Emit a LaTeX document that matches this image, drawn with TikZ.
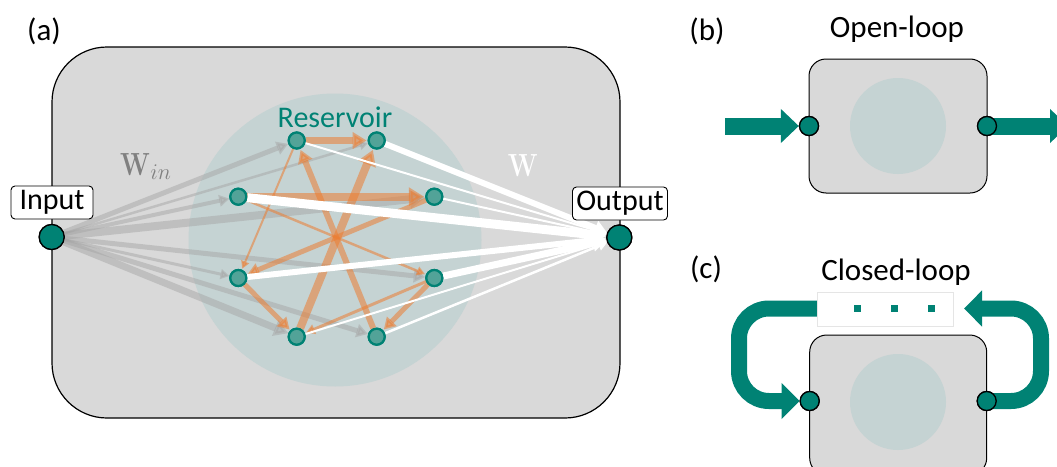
\RequirePackage{fix-cm}
\documentclass[tikz,border=0pt]{standalone}
\usepackage[no-math]{fontspec}
\usepackage{graphicx}
\setmainfont{Carlito}
\usetikzlibrary{arrows.meta}
\definecolor{bgbox}{RGB}{217,217,217}
\definecolor{resv}{RGB}{197,211,211}
\definecolor{teal1}{RGB}{0,130,116}
\definecolor{tealfill}{RGB}{82,163,152}
\definecolor{org}{RGB}{237,125,49}
\definecolor{wgray}{RGB}{128,128,128}
\begin{document}
\begin{tikzpicture}[x=1pt,y=-1pt,
  rnode/.style={circle, fill=tealfill, draw=teal1, line width=2.2pt, minimum size=16pt, inner sep=0pt},
  ionode/.style={circle, fill=teal1, draw=black, line width=1.3pt, minimum size=25pt, inner sep=0pt},
  smnode/.style={circle, fill=teal1, draw=black, line width=1.3pt, minimum size=19pt, inner sep=0pt},
  lbl/.style={draw=black, fill=white, rounded corners=4pt, line width=0.9pt, inner sep=0pt, minimum height=33pt, font=\fontsize{30}{30}\selectfont},
  ttl/.style={font=\fontsize{31}{31}\selectfont, anchor=base, inner sep=0pt},
  garr/.style={draw=black!35, opacity=0.5, -{Triangle[length=5pt 1.3, width=5pt 1.6]}},
  oarr/.style={draw=org, opacity=0.55, -{Triangle[length=5pt 1.3, width=5pt 1.6]}, shorten >=1pt},
  warr/.style={draw=white, -{Triangle[length=6pt 1.1, width=6pt 1.4]}},
  bigarr/.style={draw=teal1, line width=17pt, -{Triangle[length=18pt, width=33pt]}},
  looparr/.style={draw=teal1, line width=16pt, rounded corners=30pt, -{Triangle[length=18pt, width=35pt]}},
  panelbox/.style={draw=black, fill=bgbox, line width=1pt, rounded corners=17pt}
]
\useasboundingbox (0,0) rectangle (1057,466);
\begin{scope}
\clip (0,0) rectangle (1057,466);

% ---------- panel (a)
\node[ttl] (la) at (44,40) {(a)};
\draw[draw=black, fill=bgbox, line width=1.2pt, rounded corners=55pt] (52,47) rectangle (620,418);
\fill[resv] (335,240) circle (146.5);

\node[rnode] (n1) at (296.7,140.5) {};
\node[rnode] (n2) at (376.7,140.5) {};
\node[rnode] (n3) at (238.3,196.7) {};
\node[rnode] (n4) at (434.3,196.7) {};
\node[rnode] (n5) at (238.3,278) {};
\node[rnode] (n6) at (434.3,278) {};
\node[rnode] (n7) at (296.7,336.7) {};
\node[rnode] (n8) at (376.7,336.7) {};
\node[ionode] (in) at (51.7,237) {};
\node[ionode] (out) at (619.3,237.5) {};

% input weights
\draw[garr, line width=5pt] (in) -- (n1);
\draw[garr, line width=2.5pt] (in) -- (n2);
\draw[garr, line width=4pt] (in) -- (n3);
\draw[garr, line width=8pt] (in) -- (n4);
\draw[garr, line width=3pt] (in) -- (n5);
\draw[garr, line width=5pt] (in) -- (n6);
\draw[garr, line width=7pt] (in) -- (n7);
\draw[garr, line width=5pt] (in) -- (n8);

% reservoir connections
\draw[oarr, line width=7pt] (n1) -- (n2);
\draw[oarr, line width=8pt] (n3) -- (n4);
\draw[oarr, line width=2.5pt] (n3) -- (n6);
\draw[oarr, line width=5pt] (n4) -- (n5);
\draw[oarr, line width=2pt] (n1) -- (n5);
\draw[oarr, line width=5pt] (n5) -- (n7);
\draw[oarr, line width=8pt] (n7) -- (n2);
\draw[oarr, line width=6pt] (n8) -- (n1);
\draw[oarr, line width=3pt] (n6) -- (n7);
\draw[oarr, line width=5pt] (n6) -- (n8);

% output weights
\draw[warr, line width=2pt] (n1) -- (out);
\draw[warr, line width=6pt] (n2) -- (out);
\draw[warr, line width=9pt] (n3) -- (out);
\draw[warr, line width=2pt] (n4) -- (out);
\draw[warr, line width=6pt] (n5) -- (out);
\draw[warr, line width=7pt] (n6) -- (out);
\draw[warr, line width=2pt] (n7) -- (out);
\draw[warr, line width=2.5pt] (n8) -- (out);

% redraw nodes on top
\foreach \p/\q in {296.7/140.5, 376.7/140.5, 238.3/196.7, 434.3/196.7, 238.3/278, 434.3/278, 296.7/336.7, 376.7/336.7}
  \node[rnode] at (\p,\q) {};
\node[ionode] at (51.7,237) {};
\node[ionode] at (619.3,237.5) {};

\node[lbl, minimum width=82pt] (inlbl) at (52,202.5) {Input};
\node[lbl, minimum width=95pt] (outlbl) at (620,203.5) {Output};
\node[font=\fontsize{30}{30}\selectfont, text=teal1, anchor=base, inner sep=0pt] (reslbl) at (335,127) {Reservoir};
\node[text=wgray, anchor=base west, inner sep=0pt, font=\fontsize{32}{32}\selectfont] (win) at (120,175) {\scalebox{0.8}[1]{$\mathbf{W}$}$_{in}$};
\node[text=white, anchor=base, inner sep=0pt, font=\fontsize{32}{32}\selectfont] (wout) at (523,176) {\scalebox{0.8}[1]{$\mathbf{W}$}};

% ---------- panel (b)
\node[ttl] (lb) at (707,40) {(b)};
\node[ttl] (olt) at (897,37) {Open-loop};
\draw[panelbox] (809,59) rectangle (987,193);
\fill[resv] (898,126) circle (48);
\node[smnode] (bl) at (809,126) {};
\node[smnode] (br) at (987,126) {};
\coordinate (bsrc) at (725,126);
\coordinate (bdst) at (1068,126);
\draw[bigarr] (bsrc) -- (bl.west);
\draw[bigarr] (br.center) -- (bdst);
\node[smnode] at (809,126) {};
\node[smnode] at (987,126) {};

% ---------- panel (c)
\node[ttl] (lc) at (706,278) {(c)};
\node[ttl] (clt) at (896,280) {Closed-loop};
\draw[panelbox] (809.7,335) rectangle (986.7,475);
\fill[resv] (898,402) circle (48);
\node[smnode] (cl) at (809.7,401) {};
\node[smnode] (cr) at (986.7,401) {};
\coordinate (lstart) at (840,308.5);
\coordinate (rend) at (964,308.5);
\draw[looparr] (lstart) -- (739,308.5) -- (739,401) -- (cl.west);
\draw[looparr] (cr.center) -- (1041,401) -- (1041,308.5) -- (rend);
\node[smnode] at (809.7,401) {};
\node[smnode] at (986.7,401) {};
\node[draw=black!10, fill=white, minimum width=136pt, minimum height=34pt, inner sep=0pt] (dots) at (885,309) {};
\node[fill=teal1, minimum size=7pt, inner sep=0pt] (d1) at (857,308) {};
\node[fill=teal1, minimum size=7pt, inner sep=0pt] (d2) at (894,308) {};
\node[fill=teal1, minimum size=7pt, inner sep=0pt] (d3) at (931,308) {};
\end{scope}
\end{tikzpicture}
\end{document}
